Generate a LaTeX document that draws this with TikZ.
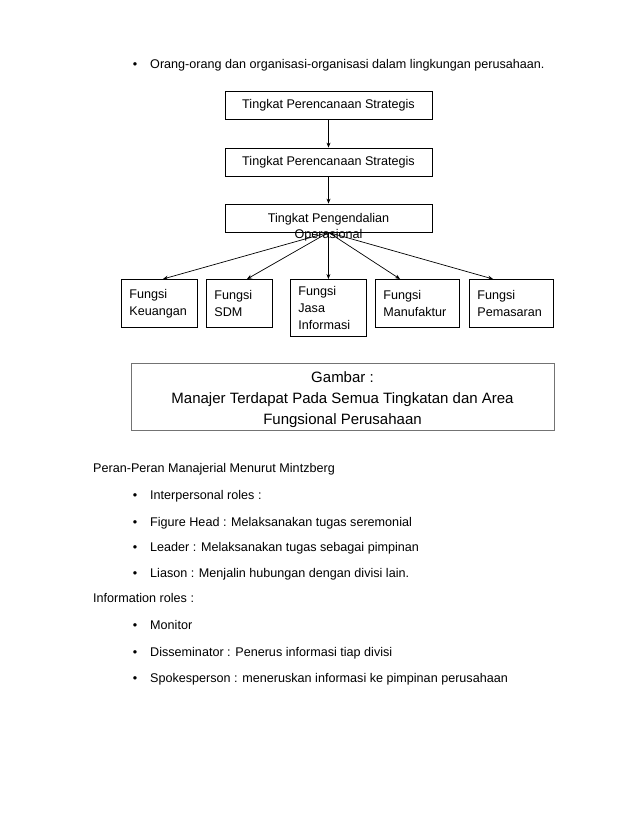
\documentclass[tikz,border=0pt]{standalone}
\usepackage{fontspec}
\setmainfont{Liberation Sans}
\usetikzlibrary{arrows.meta}
\begin{document}
\begin{tikzpicture}[x=1pt,y=-1pt,
  txt/.style={anchor=base west, inner sep=0pt, font=\fontsize{12.6}{17}\selectfont},
  bul/.style={anchor=base, inner sep=0pt, font=\fontsize{12.6}{17}\selectfont},
  lvl/.style={draw, line width=0.8pt, minimum width=207pt, minimum height=28pt, inner sep=0pt, font=\fontsize{12.6}{17}\selectfont},
  fbox/.style={draw, line width=0.8pt, anchor=north west, align=left, inner xsep=8pt, inner ysep=0pt, minimum height=48pt, font=\fontsize{12.6}{17}\selectfont},
  arr/.style={-{Stealth[length=5pt,width=4pt]}, line width=0.7pt}]
\useasboundingbox[fill=white] (0,0) rectangle (638,826);

% top bullet
\node[bul] (b0) at (135,69) {\textbullet};
\node[txt] (t0) at (150,69) {Orang-orang dan organisasi-organisasi dalam lingkungan perusahaan.};

% levels
\node[lvl] (l1) at (328.5,105) {Tingkat Perencanaan Strategis};
\node[lvl] (l2) at (328.5,162) {Tingkat Perencanaan Strategis};
\node[lvl] (l3) at (328.5,218) {};
\node[align=center, inner sep=0pt, font=\fontsize{12.6}{16}\selectfont] (l3t) at (328.5,227) {Tingkat Pengendalian\\Operasional};

\draw[arr] (l1.south) -- (l2.north);
\draw[arr] (l2.south) -- (l3.north);

% functions
\node[fbox, text width=60pt] (f1) at (121,279) {Fungsi\\Keuangan};
\node[fbox, text width=50pt] (f2) at (206,279) {Fungsi\\SDM};
\node[fbox, text width=60pt, minimum height=57pt] (f3) at (290,279) {Fungsi\\Jasa\\Informasi};
\node[fbox, text width=68pt] (f4) at (375,279) {Fungsi\\Manufaktur};
\node[fbox, text width=68pt] (f5) at (469,279) {Fungsi\\Pemasaran};

\draw[arr] (l3.south) -- (f1.north -| 163,0);
\draw[arr] (l3.south) -- (f2.north -| 247,0);
\draw[arr] (l3.south) -- (f3.north);
\draw[arr] (l3.south) -- (f4.north -| 400,0);
\draw[arr] (l3.south) -- (f5.north -| 493,0);

% caption box
\node[draw=black!55, line width=1pt, minimum width=423pt, minimum height=67pt, inner sep=0pt] (cap) at (342.5,396.5) {};
\node[align=center, inner sep=0pt, font=\fontsize{15}{21}\selectfont] (capt) at (342.5,400) {Gambar :\\Manajer Terdapat Pada Semua Tingkatan dan Area\\Fungsional Perusahaan};

% lower text
\node[txt] (p1) at (93,472) {Peran-Peran Manajerial Menurut Mintzberg};
\node[bul] (b1) at (135,499) {\textbullet};
\node[txt] (p2) at (150,499) {Interpersonal roles :};
\node[bul] (b2) at (135,526) {\textbullet};
\node[txt] (p3) at (150,526) {Figure Head : Melaksanakan tugas seremonial};
\node[bul] (b3) at (135,551) {\textbullet};
\node[txt] (p4) at (150,551) {Leader : Melaksanakan tugas sebagai pimpinan};
\node[bul] (b4) at (135,577) {\textbullet};
\node[txt] (p5) at (150,577) {Liason : Menjalin hubungan dengan divisi lain.};
\node[txt] (p6) at (93,602) {Information roles :};
\node[bul] (b5) at (135,629) {\textbullet};
\node[txt] (p7) at (150,629) {Monitor};
\node[bul] (b6) at (135,656) {\textbullet};
\node[txt] (p8) at (150,656) {Disseminator : Penerus informasi tiap divisi};
\node[bul] (b7) at (135,682) {\textbullet};
\node[txt] (p9) at (150,682) {Spokesperson : meneruskan informasi ke pimpinan perusahaan};
\end{tikzpicture}
\end{document}
